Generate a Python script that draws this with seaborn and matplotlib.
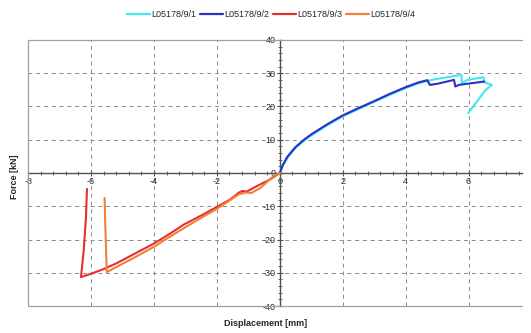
import numpy as np
import pandas as pd
import matplotlib
matplotlib.use("Agg")
import matplotlib.pyplot as plt
import seaborn as sns

# Specimen curves (displacement in mm, force in kN)
names = ["L05178/9/1", "L05178/9/2", "L05178/9/3", "L05178/9/4"]
colors = ["#3fe8f2", "#2b2fc4", "#e4302c", "#f28038"]

disp_1 = [0, 0.1, 0.25, 0.5, 0.77, 1.0, 1.5, 2.0, 2.5, 3.0, 3.5, 4.0, 4.4, 4.7,
          5.0, 5.4, 5.77, 5.8, 5.96, 6.48, 6.5, 6.74, 6.53, 5.99]
force_1 = [0, 2.2, 4.6, 7.5, 9.7, 11.3, 14.3, 17.0, 19.2, 21.4, 23.5, 25.5, 26.9, 27.7,
           28.3, 28.9, 29.5, 27.0, 28.0, 28.8, 27.3, 26.5, 24.8, 18.0]

disp_2 = [0, 0.1, 0.25, 0.5, 0.77, 1.0, 1.5, 2.0, 2.5, 3.0, 3.5, 4.0, 4.4, 4.69,
          4.77, 5.0, 5.54, 5.58, 5.7, 6.5]
force_2 = [0, 2.5, 5.0, 7.8, 10.0, 11.6, 14.6, 17.3, 19.5, 21.6, 23.8, 25.8, 27.2, 27.9,
           26.5, 26.8, 28.0, 26.0, 26.5, 27.5]

disp_3 = [0, -0.32, -0.74, -1.05, -1.18, -1.3, -1.58, -2.0, -2.5, -3.05, -3.5, -4.0,
          -4.6, -5.16, -5.6, -6.0, -6.32, -6.23, -6.16, -6.13]
force_3 = [0, -2.0, -4.0, -5.6, -5.4, -5.9, -8.0, -10.2, -12.8, -15.5, -18.3, -21.2,
           -24.2, -27.0, -28.9, -30.3, -31.3, -23.0, -13.0, -4.8]

disp_4 = [0, -0.2, -0.4, -0.6, -0.9, -1.1, -1.3, -1.6, -2.0, -2.5, -3.0, -3.5, -4.0,
          -4.5, -5.0, -5.5, -5.52, -5.55, -5.57]
force_4 = [0, -1.0, -2.6, -4.4, -6.0, -5.9, -6.4, -8.3, -10.8, -13.5, -16.3, -19.2, -22.2,
           -24.8, -27.3, -29.8, -24.0, -15.0, -7.5]

frames = []
for name, x, y in zip(names, [disp_1, disp_2, disp_3, disp_4], [force_1, force_2, force_3, force_4]):
    frames.append(pd.DataFrame({"Displacement": x, "Force": y, "Specimen": name}))
df = pd.concat(frames, ignore_index=True)

sns.set_style("white")
plt.rcParams['font.family'] = ['Liberation Sans', 'DejaVu Sans']
plt.rcParams['axes.unicode_minus'] = False

fig = plt.figure(figsize=(5.31, 3.33), dpi=100)
ax = fig.add_axes([0.053, 0.081, 0.93, 0.799])

sns.lineplot(data=df, x="Displacement", y="Force", hue="Specimen", units="Specimen",
             estimator=None, sort=False, palette=colors, linewidth=1.5, ax=ax, legend=False)

ax.set_xlim(-8, 7.7)
ax.set_ylim(-40, 40)

# dashed grid without the zero lines
for gx in [-6, -4, -2, 2, 4, 6]:
    ax.axvline(gx, color="#8a8a8a", ls=(0, (4, 4)), lw=0.7, zorder=0)
for gy in [-30, -20, -10, 10, 20, 30]:
    ax.axhline(gy, color="#8a8a8a", ls=(0, (4, 4)), lw=0.7, zorder=0)

# axes through the origin
for s in ["top", "right"]:
    ax.spines[s].set_visible(False)
for s in ["left", "bottom"]:
    ax.spines[s].set_position(("data", 0))
    ax.spines[s].set_color("#505050")
    ax.spines[s].set_linewidth(1.0)
    ax.spines[s].set_zorder(1)

# outer frame on left, top and bottom
ax.plot([0, 0, 1], [1, 0, 0], transform=ax.transAxes, color="#a0a0a0", lw=0.9, clip_on=False)
ax.plot([0, 1], [1, 1], transform=ax.transAxes, color="#a0a0a0", lw=0.9, clip_on=False)

ax.set_xticks([-8, -6, -4, -2, 0, 2, 4, 6])
ax.set_yticks([-40, -30, -20, -10, 0, 10, 20, 30, 40])
ax.set_xticks(np.arange(-8, 7.7, 0.4), minor=True)
ax.set_yticks(np.arange(-40, 41, 2), minor=True)
ax.tick_params(which="both", bottom=True, left=True, color="#505050")
ax.tick_params(which="major", direction="inout", length=4, width=0.8, labelsize=6.5, pad=1)
ax.tick_params(which="minor", direction="inout", length=2.5, width=0.6)

ax.set_xlabel("")
ax.set_ylabel("")
fig.text(0.5, 0.03, "Displacement [mm]", ha="center", va="center", fontsize=6.5, fontweight="bold")
fig.text(0.028, 0.47, "Force [kN]", ha="center", va="center", rotation=90, fontsize=6.5,
         fontweight="bold")

handles = [plt.Line2D([], [], color=c, lw=1.6) for c in colors]
fig.legend(handles, names, loc="upper center", bbox_to_anchor=(0.51, 0.995), ncol=4, frameon=False,
           fontsize=6.5, handlelength=2.6, handletextpad=0.1, columnspacing=0.4)

fig.savefig("out.png", dpi=100)
